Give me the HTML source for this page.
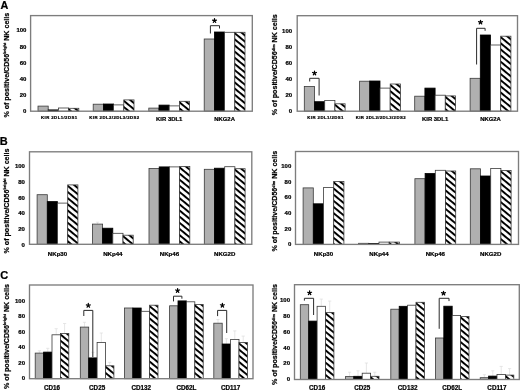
<!DOCTYPE html><html><head><meta charset="utf-8"><style>html,body{margin:0;padding:0;background:#fff;width:520px;height:391px;overflow:hidden;}svg{display:block;will-change:transform;}text{font-family:"Liberation Sans", sans-serif;stroke:#000;stroke-width:0.22px;}</style></head><body>
<svg width="520" height="391" viewBox="0 0 520 391">
<rect width="520" height="391" fill="#fff"/>
<g>
<text x="0.6" y="8.6" font-size="10.8" font-weight="bold">A</text>
<text x="-0.3" y="144.6" font-size="11" font-weight="bold">B</text>
<text x="0.2" y="278.5" font-size="11" font-weight="bold">C</text>
<text x="26.40" y="113.20" font-size="6" font-weight="bold" text-anchor="end">0</text>
<text x="26.40" y="97.04" font-size="6" font-weight="bold" text-anchor="end">20</text>
<text x="26.40" y="80.88" font-size="6" font-weight="bold" text-anchor="end">40</text>
<text x="26.40" y="64.72" font-size="6" font-weight="bold" text-anchor="end">60</text>
<text x="26.40" y="48.56" font-size="6" font-weight="bold" text-anchor="end">80</text>
<text x="26.40" y="32.40" font-size="6" font-weight="bold" text-anchor="end">100</text>
<rect x="38.00" y="106.10" width="10.20" height="5.10" fill="#b0b0b0" stroke="#3a3a3a" stroke-width="0.8"/>
<rect x="48.20" y="109.90" width="10.20" height="1.30" fill="#000" stroke="#000" stroke-width="0.8"/>
<rect x="58.40" y="108.00" width="10.20" height="3.20" fill="#fff" stroke="#3a3a3a" stroke-width="0.8"/>
<defs><pattern id="h0_0" patternUnits="userSpaceOnUse" width="30" height="4.75" patternTransform="translate(68.60,108.00) rotate(39.5)"><rect x="-5" y="0" width="40" height="4.75" fill="#fff"/><rect x="-5" y="0" width="40" height="1.95" fill="#000"/></pattern></defs>
<rect x="68.60" y="108.30" width="10.20" height="2.90" fill="url(#h0_0)" stroke="#3a3a3a" stroke-width="0.8"/>
<rect x="93.20" y="104.20" width="10.20" height="7.00" fill="#b0b0b0" stroke="#3a3a3a" stroke-width="0.8"/>
<rect x="103.40" y="104.00" width="10.20" height="7.20" fill="#000" stroke="#000" stroke-width="0.8"/>
<rect x="113.60" y="104.90" width="10.20" height="6.30" fill="#fff" stroke="#3a3a3a" stroke-width="0.8"/>
<defs><pattern id="h0_1" patternUnits="userSpaceOnUse" width="30" height="4.75" patternTransform="translate(123.80,99.60) rotate(39.5)"><rect x="-5" y="0" width="40" height="4.75" fill="#fff"/><rect x="-5" y="0" width="40" height="1.95" fill="#000"/></pattern></defs>
<rect x="123.80" y="99.90" width="10.20" height="11.30" fill="url(#h0_1)" stroke="#3a3a3a" stroke-width="0.8"/>
<rect x="148.80" y="108.10" width="10.20" height="3.10" fill="#b0b0b0" stroke="#3a3a3a" stroke-width="0.8"/>
<rect x="159.00" y="105.10" width="10.20" height="6.10" fill="#000" stroke="#000" stroke-width="0.8"/>
<rect x="169.20" y="105.90" width="10.20" height="5.30" fill="#fff" stroke="#3a3a3a" stroke-width="0.8"/>
<defs><pattern id="h0_2" patternUnits="userSpaceOnUse" width="30" height="4.75" patternTransform="translate(179.40,101.00) rotate(39.5)"><rect x="-5" y="0" width="40" height="4.75" fill="#fff"/><rect x="-5" y="0" width="40" height="1.95" fill="#000"/></pattern></defs>
<rect x="179.40" y="101.30" width="10.20" height="9.90" fill="url(#h0_2)" stroke="#3a3a3a" stroke-width="0.8"/>
<rect x="204.20" y="39.00" width="10.20" height="72.20" fill="#b0b0b0" stroke="#3a3a3a" stroke-width="0.8"/>
<rect x="214.40" y="32.00" width="10.20" height="79.20" fill="#000" stroke="#000" stroke-width="0.8"/>
<rect x="224.60" y="32.30" width="10.20" height="78.90" fill="#fff" stroke="#3a3a3a" stroke-width="0.8"/>
<defs><pattern id="h0_3" patternUnits="userSpaceOnUse" width="30" height="4.75" patternTransform="translate(234.80,32.00) rotate(39.5)"><rect x="-5" y="0" width="40" height="4.75" fill="#fff"/><rect x="-5" y="0" width="40" height="1.95" fill="#000"/></pattern></defs>
<rect x="234.80" y="32.30" width="10.20" height="78.90" fill="url(#h0_3)" stroke="#3a3a3a" stroke-width="0.8"/>
<rect x="30.60" y="15.60" width="221.70" height="95.60" fill="none" stroke="#7d7d7d" stroke-width="1.35"/>
<text x="59.30" y="119.00" font-size="4.3" font-weight="bold" letter-spacing="0.42" text-anchor="middle">KIR 2DL1/2DS1</text>
<text x="114.50" y="119.00" font-size="4.3" font-weight="bold" letter-spacing="0.42" text-anchor="middle">KIR 2DL2/2DL3/2DS2</text>
<text x="169.20" y="120.70" font-size="5.9" font-weight="bold" text-anchor="middle">KIR 3DL1</text>
<text x="224.60" y="120.70" font-size="5.9" font-weight="bold" text-anchor="middle">NKG2A</text>
<text x="292.10" y="112.70" font-size="6" font-weight="bold" text-anchor="end">0</text>
<text x="292.10" y="96.68" font-size="6" font-weight="bold" text-anchor="end">20</text>
<text x="292.10" y="80.66" font-size="6" font-weight="bold" text-anchor="end">40</text>
<text x="292.10" y="64.64" font-size="6" font-weight="bold" text-anchor="end">60</text>
<text x="292.10" y="48.62" font-size="6" font-weight="bold" text-anchor="end">80</text>
<text x="292.10" y="32.60" font-size="6" font-weight="bold" text-anchor="end">100</text>
<rect x="304.30" y="86.40" width="10.20" height="24.80" fill="#b0b0b0" stroke="#3a3a3a" stroke-width="0.8"/>
<rect x="314.50" y="101.70" width="10.20" height="9.50" fill="#000" stroke="#000" stroke-width="0.8"/>
<rect x="324.70" y="100.40" width="10.20" height="10.80" fill="#fff" stroke="#3a3a3a" stroke-width="0.8"/>
<defs><pattern id="h1_0" patternUnits="userSpaceOnUse" width="30" height="4.75" patternTransform="translate(334.90,103.50) rotate(39.5)"><rect x="-5" y="0" width="40" height="4.75" fill="#fff"/><rect x="-5" y="0" width="40" height="1.95" fill="#000"/></pattern></defs>
<rect x="334.90" y="103.80" width="10.20" height="7.40" fill="url(#h1_0)" stroke="#3a3a3a" stroke-width="0.8"/>
<rect x="359.60" y="81.20" width="10.20" height="30.00" fill="#b0b0b0" stroke="#3a3a3a" stroke-width="0.8"/>
<rect x="369.80" y="81.00" width="10.20" height="30.20" fill="#000" stroke="#000" stroke-width="0.8"/>
<rect x="380.00" y="88.10" width="10.20" height="23.10" fill="#fff" stroke="#3a3a3a" stroke-width="0.8"/>
<defs><pattern id="h1_1" patternUnits="userSpaceOnUse" width="30" height="4.75" patternTransform="translate(390.20,83.70) rotate(39.5)"><rect x="-5" y="0" width="40" height="4.75" fill="#fff"/><rect x="-5" y="0" width="40" height="1.95" fill="#000"/></pattern></defs>
<rect x="390.20" y="84.00" width="10.20" height="27.20" fill="url(#h1_1)" stroke="#3a3a3a" stroke-width="0.8"/>
<rect x="414.70" y="96.20" width="10.20" height="15.00" fill="#b0b0b0" stroke="#3a3a3a" stroke-width="0.8"/>
<rect x="424.90" y="88.10" width="10.20" height="23.10" fill="#000" stroke="#000" stroke-width="0.8"/>
<rect x="435.10" y="95.20" width="10.20" height="16.00" fill="#fff" stroke="#3a3a3a" stroke-width="0.8"/>
<defs><pattern id="h1_2" patternUnits="userSpaceOnUse" width="30" height="4.75" patternTransform="translate(445.30,95.60) rotate(39.5)"><rect x="-5" y="0" width="40" height="4.75" fill="#fff"/><rect x="-5" y="0" width="40" height="1.95" fill="#000"/></pattern></defs>
<rect x="445.30" y="95.90" width="10.20" height="15.30" fill="url(#h1_2)" stroke="#3a3a3a" stroke-width="0.8"/>
<rect x="470.10" y="78.30" width="10.20" height="32.90" fill="#b0b0b0" stroke="#3a3a3a" stroke-width="0.8"/>
<rect x="480.30" y="35.00" width="10.20" height="76.20" fill="#000" stroke="#000" stroke-width="0.8"/>
<rect x="490.50" y="45.00" width="10.20" height="66.20" fill="#fff" stroke="#3a3a3a" stroke-width="0.8"/>
<defs><pattern id="h1_3" patternUnits="userSpaceOnUse" width="30" height="4.75" patternTransform="translate(500.70,35.90) rotate(39.5)"><rect x="-5" y="0" width="40" height="4.75" fill="#fff"/><rect x="-5" y="0" width="40" height="1.95" fill="#000"/></pattern></defs>
<rect x="500.70" y="36.20" width="10.20" height="75.00" fill="url(#h1_3)" stroke="#3a3a3a" stroke-width="0.8"/>
<rect x="297.20" y="15.70" width="220.30" height="95.50" fill="none" stroke="#7d7d7d" stroke-width="1.35"/>
<text x="325.60" y="119.00" font-size="4.3" font-weight="bold" letter-spacing="0.42" text-anchor="middle">KIR 2DL1/2DS1</text>
<text x="380.90" y="119.00" font-size="4.3" font-weight="bold" letter-spacing="0.42" text-anchor="middle">KIR 2DL2/2DL3/2DS2</text>
<text x="435.10" y="120.70" font-size="5.9" font-weight="bold" text-anchor="middle">KIR 3DL1</text>
<text x="490.50" y="120.70" font-size="5.9" font-weight="bold" text-anchor="middle">NKG2A</text>
<text x="24.90" y="246.50" font-size="6" font-weight="bold" text-anchor="end">0</text>
<text x="24.90" y="230.88" font-size="6" font-weight="bold" text-anchor="end">20</text>
<text x="24.90" y="215.26" font-size="6" font-weight="bold" text-anchor="end">40</text>
<text x="24.90" y="199.64" font-size="6" font-weight="bold" text-anchor="end">60</text>
<text x="24.90" y="184.02" font-size="6" font-weight="bold" text-anchor="end">80</text>
<text x="24.90" y="168.40" font-size="6" font-weight="bold" text-anchor="end">100</text>
<path d="M97.50 224.10V222.20M95.90 222.20H99.10" stroke="#dcdcdc" stroke-width="0.7" fill="none"/>
<rect x="37.10" y="194.70" width="10.20" height="49.60" fill="#b0b0b0" stroke="#3a3a3a" stroke-width="0.8"/>
<rect x="47.30" y="201.60" width="10.20" height="42.70" fill="#000" stroke="#000" stroke-width="0.8"/>
<rect x="57.50" y="203.10" width="10.20" height="41.20" fill="#fff" stroke="#3a3a3a" stroke-width="0.8"/>
<defs><pattern id="h2_0" patternUnits="userSpaceOnUse" width="30" height="4.75" patternTransform="translate(67.70,184.60) rotate(39.5)"><rect x="-5" y="0" width="40" height="4.75" fill="#fff"/><rect x="-5" y="0" width="40" height="1.95" fill="#000"/></pattern></defs>
<rect x="67.70" y="184.90" width="10.20" height="59.40" fill="url(#h2_0)" stroke="#3a3a3a" stroke-width="0.8"/>
<rect x="92.40" y="224.10" width="10.20" height="20.20" fill="#b0b0b0" stroke="#3a3a3a" stroke-width="0.8"/>
<rect x="102.60" y="228.20" width="10.20" height="16.10" fill="#000" stroke="#000" stroke-width="0.8"/>
<rect x="112.80" y="233.30" width="10.20" height="11.00" fill="#fff" stroke="#3a3a3a" stroke-width="0.8"/>
<defs><pattern id="h2_1" patternUnits="userSpaceOnUse" width="30" height="4.75" patternTransform="translate(123.00,234.90) rotate(39.5)"><rect x="-5" y="0" width="40" height="4.75" fill="#fff"/><rect x="-5" y="0" width="40" height="1.95" fill="#000"/></pattern></defs>
<rect x="123.00" y="235.20" width="10.20" height="9.10" fill="url(#h2_1)" stroke="#3a3a3a" stroke-width="0.8"/>
<rect x="149.00" y="168.50" width="10.20" height="75.80" fill="#b0b0b0" stroke="#3a3a3a" stroke-width="0.8"/>
<rect x="159.20" y="166.90" width="10.20" height="77.40" fill="#000" stroke="#000" stroke-width="0.8"/>
<rect x="169.40" y="166.90" width="10.20" height="77.40" fill="#fff" stroke="#3a3a3a" stroke-width="0.8"/>
<defs><pattern id="h2_2" patternUnits="userSpaceOnUse" width="30" height="4.75" patternTransform="translate(179.60,166.20) rotate(39.5)"><rect x="-5" y="0" width="40" height="4.75" fill="#fff"/><rect x="-5" y="0" width="40" height="1.95" fill="#000"/></pattern></defs>
<rect x="179.60" y="166.50" width="10.20" height="77.80" fill="url(#h2_2)" stroke="#3a3a3a" stroke-width="0.8"/>
<rect x="204.30" y="169.30" width="10.20" height="75.00" fill="#b0b0b0" stroke="#3a3a3a" stroke-width="0.8"/>
<rect x="214.50" y="168.20" width="10.20" height="76.10" fill="#000" stroke="#000" stroke-width="0.8"/>
<rect x="224.70" y="166.70" width="10.20" height="77.60" fill="#fff" stroke="#3a3a3a" stroke-width="0.8"/>
<defs><pattern id="h2_3" patternUnits="userSpaceOnUse" width="30" height="4.75" patternTransform="translate(234.90,168.40) rotate(39.5)"><rect x="-5" y="0" width="40" height="4.75" fill="#fff"/><rect x="-5" y="0" width="40" height="1.95" fill="#000"/></pattern></defs>
<rect x="234.90" y="168.70" width="10.20" height="75.60" fill="url(#h2_3)" stroke="#3a3a3a" stroke-width="0.8"/>
<rect x="29.50" y="151.80" width="222.30" height="92.50" fill="none" stroke="#7d7d7d" stroke-width="1.35"/>
<text x="57.50" y="255.60" font-size="6.1" font-weight="bold" text-anchor="middle">NKp30</text>
<text x="112.80" y="255.60" font-size="6.1" font-weight="bold" text-anchor="middle">NKp44</text>
<text x="169.40" y="255.60" font-size="6.1" font-weight="bold" text-anchor="middle">NKp46</text>
<text x="224.70" y="255.60" font-size="6.1" font-weight="bold" text-anchor="middle">NKG2D</text>
<text x="291.30" y="246.30" font-size="6" font-weight="bold" text-anchor="end">0</text>
<text x="291.30" y="230.68" font-size="6" font-weight="bold" text-anchor="end">20</text>
<text x="291.30" y="215.06" font-size="6" font-weight="bold" text-anchor="end">40</text>
<text x="291.30" y="199.44" font-size="6" font-weight="bold" text-anchor="end">60</text>
<text x="291.30" y="183.82" font-size="6" font-weight="bold" text-anchor="end">80</text>
<text x="291.30" y="168.20" font-size="6" font-weight="bold" text-anchor="end">100</text>
<rect x="303.10" y="187.90" width="10.20" height="56.50" fill="#b0b0b0" stroke="#3a3a3a" stroke-width="0.8"/>
<rect x="313.30" y="203.80" width="10.20" height="40.60" fill="#000" stroke="#000" stroke-width="0.8"/>
<rect x="323.50" y="187.60" width="10.20" height="56.80" fill="#fff" stroke="#3a3a3a" stroke-width="0.8"/>
<defs><pattern id="h3_0" patternUnits="userSpaceOnUse" width="30" height="4.75" patternTransform="translate(333.70,181.20) rotate(39.5)"><rect x="-5" y="0" width="40" height="4.75" fill="#fff"/><rect x="-5" y="0" width="40" height="1.95" fill="#000"/></pattern></defs>
<rect x="333.70" y="181.50" width="10.20" height="62.90" fill="url(#h3_0)" stroke="#3a3a3a" stroke-width="0.8"/>
<rect x="358.60" y="243.30" width="10.20" height="1.10" fill="#b0b0b0" stroke="#3a3a3a" stroke-width="0.8"/>
<rect x="368.80" y="243.50" width="10.20" height="0.90" fill="#000" stroke="#000" stroke-width="0.8"/>
<rect x="379.00" y="242.10" width="10.20" height="2.30" fill="#fff" stroke="#3a3a3a" stroke-width="0.8"/>
<defs><pattern id="h3_1" patternUnits="userSpaceOnUse" width="30" height="4.75" patternTransform="translate(389.20,241.80) rotate(39.5)"><rect x="-5" y="0" width="40" height="4.75" fill="#fff"/><rect x="-5" y="0" width="40" height="1.95" fill="#000"/></pattern></defs>
<rect x="389.20" y="242.10" width="10.20" height="2.30" fill="url(#h3_1)" stroke="#3a3a3a" stroke-width="0.8"/>
<rect x="414.90" y="178.70" width="10.20" height="65.70" fill="#b0b0b0" stroke="#3a3a3a" stroke-width="0.8"/>
<rect x="425.10" y="173.50" width="10.20" height="70.90" fill="#000" stroke="#000" stroke-width="0.8"/>
<rect x="435.30" y="170.30" width="10.20" height="74.10" fill="#fff" stroke="#3a3a3a" stroke-width="0.8"/>
<defs><pattern id="h3_2" patternUnits="userSpaceOnUse" width="30" height="4.75" patternTransform="translate(445.50,170.70) rotate(39.5)"><rect x="-5" y="0" width="40" height="4.75" fill="#fff"/><rect x="-5" y="0" width="40" height="1.95" fill="#000"/></pattern></defs>
<rect x="445.50" y="171.00" width="10.20" height="73.40" fill="url(#h3_2)" stroke="#3a3a3a" stroke-width="0.8"/>
<rect x="470.30" y="168.80" width="10.20" height="75.60" fill="#b0b0b0" stroke="#3a3a3a" stroke-width="0.8"/>
<rect x="480.50" y="176.00" width="10.20" height="68.40" fill="#000" stroke="#000" stroke-width="0.8"/>
<rect x="490.70" y="168.50" width="10.20" height="75.90" fill="#fff" stroke="#3a3a3a" stroke-width="0.8"/>
<defs><pattern id="h3_3" patternUnits="userSpaceOnUse" width="30" height="4.75" patternTransform="translate(500.90,170.20) rotate(39.5)"><rect x="-5" y="0" width="40" height="4.75" fill="#fff"/><rect x="-5" y="0" width="40" height="1.95" fill="#000"/></pattern></defs>
<rect x="500.90" y="170.50" width="10.20" height="73.90" fill="url(#h3_3)" stroke="#3a3a3a" stroke-width="0.8"/>
<rect x="295.50" y="151.50" width="223.00" height="92.90" fill="none" stroke="#7d7d7d" stroke-width="1.35"/>
<text x="323.50" y="255.60" font-size="6.1" font-weight="bold" text-anchor="middle">NKp30</text>
<text x="379.00" y="255.60" font-size="6.1" font-weight="bold" text-anchor="middle">NKp44</text>
<text x="435.30" y="255.60" font-size="6.1" font-weight="bold" text-anchor="middle">NKp46</text>
<text x="490.70" y="255.60" font-size="6.1" font-weight="bold" text-anchor="middle">NKG2D</text>
<text x="25.00" y="380.20" font-size="6" font-weight="bold" text-anchor="end">0</text>
<text x="25.00" y="364.68" font-size="6" font-weight="bold" text-anchor="end">20</text>
<text x="25.00" y="349.16" font-size="6" font-weight="bold" text-anchor="end">40</text>
<text x="25.00" y="333.64" font-size="6" font-weight="bold" text-anchor="end">60</text>
<text x="25.00" y="318.12" font-size="6" font-weight="bold" text-anchor="end">80</text>
<text x="25.00" y="302.60" font-size="6" font-weight="bold" text-anchor="end">100</text>
<path d="M39.40 353.10V350.80M37.80 350.80H41.00" stroke="#dcdcdc" stroke-width="0.7" fill="none"/>
<path d="M47.80 352.10V348.30M46.20 348.30H49.40" stroke="#dcdcdc" stroke-width="0.7" fill="none"/>
<path d="M56.20 334.80V328.70M54.60 328.70H57.80" stroke="#dcdcdc" stroke-width="0.7" fill="none"/>
<path d="M64.60 333.50V323.50M63.00 323.50H66.20" stroke="#dcdcdc" stroke-width="0.7" fill="none"/>
<path d="M84.50 327.10V322.30M82.90 322.30H86.10" stroke="#dcdcdc" stroke-width="0.7" fill="none"/>
<path d="M92.90 357.90V352.30M91.30 352.30H94.50" stroke="#dcdcdc" stroke-width="0.7" fill="none"/>
<path d="M101.30 342.50V333.00M99.70 333.00H102.90" stroke="#dcdcdc" stroke-width="0.7" fill="none"/>
<path d="M109.70 365.80V362.30M108.10 362.30H111.30" stroke="#dcdcdc" stroke-width="0.7" fill="none"/>
<path d="M218.00 323.20V319.60M216.40 319.60H219.60" stroke="#dcdcdc" stroke-width="0.7" fill="none"/>
<path d="M226.40 344.00V338.70M224.80 338.70H228.00" stroke="#dcdcdc" stroke-width="0.7" fill="none"/>
<path d="M234.80 339.40V330.90M233.20 330.90H236.40" stroke="#dcdcdc" stroke-width="0.7" fill="none"/>
<path d="M243.20 342.50V336.10M241.60 336.10H244.80" stroke="#dcdcdc" stroke-width="0.7" fill="none"/>
<rect x="35.20" y="353.10" width="8.40" height="25.60" fill="#b0b0b0" stroke="#3a3a3a" stroke-width="0.8"/>
<rect x="43.60" y="352.10" width="8.40" height="26.60" fill="#000" stroke="#000" stroke-width="0.8"/>
<rect x="52.00" y="334.80" width="8.40" height="43.90" fill="#fff" stroke="#3a3a3a" stroke-width="0.8"/>
<defs><pattern id="h4_0" patternUnits="userSpaceOnUse" width="30" height="4.75" patternTransform="translate(60.40,333.20) rotate(39.5)"><rect x="-5" y="0" width="40" height="4.75" fill="#fff"/><rect x="-5" y="0" width="40" height="1.95" fill="#000"/></pattern></defs>
<rect x="60.40" y="333.50" width="8.40" height="45.20" fill="url(#h4_0)" stroke="#3a3a3a" stroke-width="0.8"/>
<rect x="80.30" y="327.10" width="8.40" height="51.60" fill="#b0b0b0" stroke="#3a3a3a" stroke-width="0.8"/>
<rect x="88.70" y="357.90" width="8.40" height="20.80" fill="#000" stroke="#000" stroke-width="0.8"/>
<rect x="97.10" y="342.50" width="8.40" height="36.20" fill="#fff" stroke="#3a3a3a" stroke-width="0.8"/>
<defs><pattern id="h4_1" patternUnits="userSpaceOnUse" width="30" height="4.75" patternTransform="translate(105.50,365.50) rotate(39.5)"><rect x="-5" y="0" width="40" height="4.75" fill="#fff"/><rect x="-5" y="0" width="40" height="1.95" fill="#000"/></pattern></defs>
<rect x="105.50" y="365.80" width="8.40" height="12.90" fill="url(#h4_1)" stroke="#3a3a3a" stroke-width="0.8"/>
<rect x="124.40" y="308.00" width="8.40" height="70.70" fill="#b0b0b0" stroke="#3a3a3a" stroke-width="0.8"/>
<rect x="132.80" y="308.00" width="8.40" height="70.70" fill="#000" stroke="#000" stroke-width="0.8"/>
<rect x="141.20" y="311.30" width="8.40" height="67.40" fill="#fff" stroke="#3a3a3a" stroke-width="0.8"/>
<defs><pattern id="h4_2" patternUnits="userSpaceOnUse" width="30" height="4.75" patternTransform="translate(149.60,304.90) rotate(39.5)"><rect x="-5" y="0" width="40" height="4.75" fill="#fff"/><rect x="-5" y="0" width="40" height="1.95" fill="#000"/></pattern></defs>
<rect x="149.60" y="305.20" width="8.40" height="73.50" fill="url(#h4_2)" stroke="#3a3a3a" stroke-width="0.8"/>
<rect x="169.60" y="305.80" width="8.40" height="72.90" fill="#b0b0b0" stroke="#3a3a3a" stroke-width="0.8"/>
<rect x="178.00" y="300.90" width="8.40" height="77.80" fill="#000" stroke="#000" stroke-width="0.8"/>
<rect x="186.40" y="301.80" width="8.40" height="76.90" fill="#fff" stroke="#3a3a3a" stroke-width="0.8"/>
<defs><pattern id="h4_3" patternUnits="userSpaceOnUse" width="30" height="4.75" patternTransform="translate(194.80,304.10) rotate(39.5)"><rect x="-5" y="0" width="40" height="4.75" fill="#fff"/><rect x="-5" y="0" width="40" height="1.95" fill="#000"/></pattern></defs>
<rect x="194.80" y="304.40" width="8.40" height="74.30" fill="url(#h4_3)" stroke="#3a3a3a" stroke-width="0.8"/>
<rect x="213.80" y="323.20" width="8.40" height="55.50" fill="#b0b0b0" stroke="#3a3a3a" stroke-width="0.8"/>
<rect x="222.20" y="344.00" width="8.40" height="34.70" fill="#000" stroke="#000" stroke-width="0.8"/>
<rect x="230.60" y="339.40" width="8.40" height="39.30" fill="#fff" stroke="#3a3a3a" stroke-width="0.8"/>
<defs><pattern id="h4_4" patternUnits="userSpaceOnUse" width="30" height="4.75" patternTransform="translate(239.00,342.20) rotate(39.5)"><rect x="-5" y="0" width="40" height="4.75" fill="#fff"/><rect x="-5" y="0" width="40" height="1.95" fill="#000"/></pattern></defs>
<rect x="239.00" y="342.50" width="8.40" height="36.20" fill="url(#h4_4)" stroke="#3a3a3a" stroke-width="0.8"/>
<rect x="29.50" y="285.00" width="223.50" height="93.70" fill="none" stroke="#7d7d7d" stroke-width="1.35"/>
<text x="52.00" y="389.60" font-size="6.3" font-weight="bold" text-anchor="middle">CD16</text>
<text x="97.10" y="389.60" font-size="6.3" font-weight="bold" text-anchor="middle">CD25</text>
<text x="141.20" y="389.60" font-size="6.3" font-weight="bold" text-anchor="middle">CD132</text>
<text x="186.40" y="389.60" font-size="6.3" font-weight="bold" text-anchor="middle">CD62L</text>
<text x="230.60" y="389.60" font-size="6.3" font-weight="bold" text-anchor="middle">CD117</text>
<text x="290.00" y="381.40" font-size="6" font-weight="bold" text-anchor="end">0</text>
<text x="290.00" y="365.48" font-size="6" font-weight="bold" text-anchor="end">20</text>
<text x="290.00" y="349.56" font-size="6" font-weight="bold" text-anchor="end">40</text>
<text x="290.00" y="333.64" font-size="6" font-weight="bold" text-anchor="end">60</text>
<text x="290.00" y="317.72" font-size="6" font-weight="bold" text-anchor="end">80</text>
<text x="290.00" y="301.80" font-size="6" font-weight="bold" text-anchor="end">100</text>
<path d="M321.30 306.30V299.10M319.70 299.10H322.90" stroke="#dcdcdc" stroke-width="0.7" fill="none"/>
<path d="M329.70 312.40V301.10M328.10 301.10H331.30" stroke="#dcdcdc" stroke-width="0.7" fill="none"/>
<path d="M349.60 376.60V372.20M348.00 372.20H351.20" stroke="#dcdcdc" stroke-width="0.7" fill="none"/>
<path d="M358.00 376.30V370.80M356.40 370.80H359.60" stroke="#dcdcdc" stroke-width="0.7" fill="none"/>
<path d="M366.40 373.20V363.00M364.80 363.00H368.00" stroke="#dcdcdc" stroke-width="0.7" fill="none"/>
<path d="M374.80 376.30V372.20M373.20 372.20H376.40" stroke="#dcdcdc" stroke-width="0.7" fill="none"/>
<path d="M484.40 377.70V374.70M482.80 374.70H486.00" stroke="#dcdcdc" stroke-width="0.7" fill="none"/>
<path d="M492.80 376.10V370.80M491.20 370.80H494.40" stroke="#dcdcdc" stroke-width="0.7" fill="none"/>
<path d="M501.20 374.50V366.40M499.60 366.40H502.80" stroke="#dcdcdc" stroke-width="0.7" fill="none"/>
<path d="M509.60 375.10V368.60M508.00 368.60H511.20" stroke="#dcdcdc" stroke-width="0.7" fill="none"/>
<rect x="300.30" y="304.70" width="8.40" height="74.80" fill="#b0b0b0" stroke="#3a3a3a" stroke-width="0.8"/>
<rect x="308.70" y="321.10" width="8.40" height="58.40" fill="#000" stroke="#000" stroke-width="0.8"/>
<rect x="317.10" y="306.30" width="8.40" height="73.20" fill="#fff" stroke="#3a3a3a" stroke-width="0.8"/>
<defs><pattern id="h5_0" patternUnits="userSpaceOnUse" width="30" height="4.75" patternTransform="translate(325.50,312.10) rotate(39.5)"><rect x="-5" y="0" width="40" height="4.75" fill="#fff"/><rect x="-5" y="0" width="40" height="1.95" fill="#000"/></pattern></defs>
<rect x="325.50" y="312.40" width="8.40" height="67.10" fill="url(#h5_0)" stroke="#3a3a3a" stroke-width="0.8"/>
<rect x="345.40" y="376.60" width="8.40" height="2.90" fill="#b0b0b0" stroke="#3a3a3a" stroke-width="0.8"/>
<rect x="353.80" y="376.30" width="8.40" height="3.20" fill="#000" stroke="#000" stroke-width="0.8"/>
<rect x="362.20" y="373.20" width="8.40" height="6.30" fill="#fff" stroke="#3a3a3a" stroke-width="0.8"/>
<defs><pattern id="h5_1" patternUnits="userSpaceOnUse" width="30" height="4.75" patternTransform="translate(370.60,376.00) rotate(39.5)"><rect x="-5" y="0" width="40" height="4.75" fill="#fff"/><rect x="-5" y="0" width="40" height="1.95" fill="#000"/></pattern></defs>
<rect x="370.60" y="376.30" width="8.40" height="3.20" fill="url(#h5_1)" stroke="#3a3a3a" stroke-width="0.8"/>
<rect x="390.80" y="309.20" width="8.40" height="70.30" fill="#b0b0b0" stroke="#3a3a3a" stroke-width="0.8"/>
<rect x="399.20" y="306.30" width="8.40" height="73.20" fill="#000" stroke="#000" stroke-width="0.8"/>
<rect x="407.60" y="305.20" width="8.40" height="74.30" fill="#fff" stroke="#3a3a3a" stroke-width="0.8"/>
<defs><pattern id="h5_2" patternUnits="userSpaceOnUse" width="30" height="4.75" patternTransform="translate(416.00,302.00) rotate(39.5)"><rect x="-5" y="0" width="40" height="4.75" fill="#fff"/><rect x="-5" y="0" width="40" height="1.95" fill="#000"/></pattern></defs>
<rect x="416.00" y="302.30" width="8.40" height="77.20" fill="url(#h5_2)" stroke="#3a3a3a" stroke-width="0.8"/>
<rect x="435.40" y="338.00" width="8.40" height="41.50" fill="#b0b0b0" stroke="#3a3a3a" stroke-width="0.8"/>
<rect x="443.80" y="306.20" width="8.40" height="73.30" fill="#000" stroke="#000" stroke-width="0.8"/>
<rect x="452.20" y="315.40" width="8.40" height="64.10" fill="#fff" stroke="#3a3a3a" stroke-width="0.8"/>
<defs><pattern id="h5_3" patternUnits="userSpaceOnUse" width="30" height="4.75" patternTransform="translate(460.60,316.20) rotate(39.5)"><rect x="-5" y="0" width="40" height="4.75" fill="#fff"/><rect x="-5" y="0" width="40" height="1.95" fill="#000"/></pattern></defs>
<rect x="460.60" y="316.50" width="8.40" height="63.00" fill="url(#h5_3)" stroke="#3a3a3a" stroke-width="0.8"/>
<rect x="480.20" y="377.70" width="8.40" height="1.80" fill="#b0b0b0" stroke="#3a3a3a" stroke-width="0.8"/>
<rect x="488.60" y="376.10" width="8.40" height="3.40" fill="#000" stroke="#000" stroke-width="0.8"/>
<rect x="497.00" y="374.50" width="8.40" height="5.00" fill="#fff" stroke="#3a3a3a" stroke-width="0.8"/>
<defs><pattern id="h5_4" patternUnits="userSpaceOnUse" width="30" height="4.75" patternTransform="translate(505.40,374.80) rotate(39.5)"><rect x="-5" y="0" width="40" height="4.75" fill="#fff"/><rect x="-5" y="0" width="40" height="1.95" fill="#000"/></pattern></defs>
<rect x="505.40" y="375.10" width="8.40" height="4.40" fill="url(#h5_4)" stroke="#3a3a3a" stroke-width="0.8"/>
<rect x="294.50" y="284.70" width="224.80" height="94.80" fill="none" stroke="#7d7d7d" stroke-width="1.35"/>
<text x="317.10" y="390.20" font-size="6.3" font-weight="bold" text-anchor="middle">CD16</text>
<text x="362.20" y="390.20" font-size="6.3" font-weight="bold" text-anchor="middle">CD25</text>
<text x="407.60" y="390.20" font-size="6.3" font-weight="bold" text-anchor="middle">CD132</text>
<text x="452.20" y="390.20" font-size="6.3" font-weight="bold" text-anchor="middle">CD62L</text>
<text x="497.00" y="390.20" font-size="6.3" font-weight="bold" text-anchor="middle">CD117</text>
<text transform="translate(8.80,65.20) rotate(-90)" x="0" y="0" font-size="7.1" font-weight="bold" text-anchor="middle">% of positive/CD56<tspan font-size="3.9" dy="-2.6">bright</tspan><tspan dy="2.6"> NK cells</tspan></text>
<text transform="translate(277.20,64.80) rotate(-90)" x="0" y="0" font-size="7.1" font-weight="bold" text-anchor="middle">% of positive/CD56<tspan font-size="3.9" dy="-2.6">dim</tspan><tspan dy="2.6"> NK cells</tspan></text>
<text transform="translate(8.80,201.00) rotate(-90)" x="0" y="0" font-size="7.1" font-weight="bold" text-anchor="middle">% of positive/CD56<tspan font-size="3.9" dy="-2.6">bright</tspan><tspan dy="2.6"> NK cells</tspan></text>
<text transform="translate(277.20,201.20) rotate(-90)" x="0" y="0" font-size="7.1" font-weight="bold" text-anchor="middle">% of positive/CD56<tspan font-size="3.9" dy="-2.6">dim</tspan><tspan dy="2.6"> NK cells</tspan></text>
<text transform="translate(8.80,336.50) rotate(-90)" x="0" y="0" font-size="7.1" font-weight="bold" text-anchor="middle">% of positive/CD56<tspan font-size="3.9" dy="-2.6">bright</tspan><tspan dy="2.6"> NK cells</tspan></text>
<text transform="translate(277.20,334.50) rotate(-90)" x="0" y="0" font-size="7.1" font-weight="bold" text-anchor="middle">% of positive/CD56<tspan font-size="3.9" dy="-2.6">dim</tspan><tspan dy="2.6"> NK cells</tspan></text>
<path d="M210.40 33.50V25.70H219.50V28.50" stroke="#2a2a2a" stroke-width="1" fill="none"/>
<path d="M214.50 20.70L214.50 18.65M214.50 20.70L216.45 20.07M214.50 20.70L215.70 22.36M214.50 20.70L213.30 22.36M214.50 20.70L212.55 20.07" stroke="#000" stroke-width="1.25" stroke-linecap="round" fill="none"/>
<path d="M309.70 81.50V78.30H319.10V95.50" stroke="#2a2a2a" stroke-width="1" fill="none"/>
<path d="M314.50 73.10L314.50 71.05M314.50 73.10L316.45 72.47M314.50 73.10L315.70 74.76M314.50 73.10L313.30 74.76M314.50 73.10L312.55 72.47" stroke="#000" stroke-width="1.25" stroke-linecap="round" fill="none"/>
<path d="M476.60 64.50V28.30H485.10V30.80" stroke="#2a2a2a" stroke-width="1" fill="none"/>
<path d="M480.50 22.30L480.50 20.25M480.50 22.30L482.45 21.67M480.50 22.30L481.70 23.96M480.50 22.30L479.30 23.96M480.50 22.30L478.55 21.67" stroke="#000" stroke-width="1.25" stroke-linecap="round" fill="none"/>
<path d="M83.80 316.00V310.40H92.80V357.00" stroke="#2a2a2a" stroke-width="1" fill="none"/>
<path d="M88.30 305.50L88.30 303.45M88.30 305.50L90.25 304.87M88.30 305.50L89.50 307.16M88.30 305.50L87.10 307.16M88.30 305.50L86.35 304.87" stroke="#000" stroke-width="1.25" stroke-linecap="round" fill="none"/>
<path d="M173.50 301.40V296.20H181.90V298.70" stroke="#2a2a2a" stroke-width="1" fill="none"/>
<path d="M177.60 290.60L177.60 288.55M177.60 290.60L179.55 289.97M177.60 290.60L178.80 292.26M177.60 290.60L176.40 292.26M177.60 290.60L175.65 289.97" stroke="#000" stroke-width="1.25" stroke-linecap="round" fill="none"/>
<path d="M217.60 316.10V310.40H226.70V333.00" stroke="#2a2a2a" stroke-width="1" fill="none"/>
<path d="M222.40 305.40L222.40 303.35M222.40 305.40L224.35 304.77M222.40 305.40L223.60 307.06M222.40 305.40L221.20 307.06M222.40 305.40L220.45 304.77" stroke="#000" stroke-width="1.25" stroke-linecap="round" fill="none"/>
<path d="M304.40 300.60V298.30H313.60V315.00" stroke="#2a2a2a" stroke-width="1" fill="none"/>
<path d="M309.60 292.90L309.60 290.85M309.60 292.90L311.55 292.27M309.60 292.90L310.80 294.56M309.60 292.90L308.40 294.56M309.60 292.90L307.65 292.27" stroke="#000" stroke-width="1.25" stroke-linecap="round" fill="none"/>
<path d="M439.20 328.80V298.30H449.00V301.10" stroke="#2a2a2a" stroke-width="1" fill="none"/>
<path d="M443.50 293.30L443.50 291.25M443.50 293.30L445.45 292.67M443.50 293.30L444.70 294.96M443.50 293.30L442.30 294.96M443.50 293.30L441.55 292.67" stroke="#000" stroke-width="1.25" stroke-linecap="round" fill="none"/>
</g></svg></body></html>
